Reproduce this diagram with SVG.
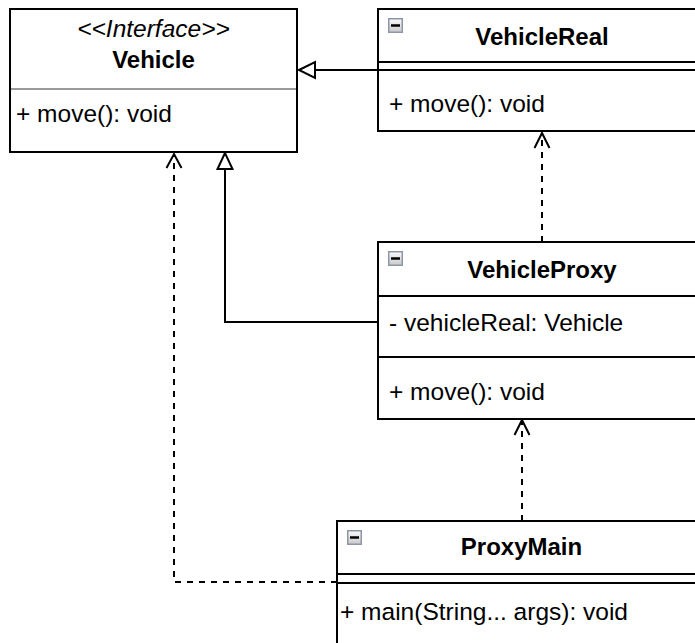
<svg xmlns="http://www.w3.org/2000/svg" width="695" height="643" viewBox="0 0 695 643">
<style>
.box{fill:#ffffff;stroke:#000000;stroke-width:2}
.sep{stroke:#000000;stroke-width:2}
.gsep{stroke:#9a9a9a;stroke-width:2}
text{font-family:"Liberation Sans",Arial,Helvetica,sans-serif;font-size:24.5px;fill:#000000}
.t{font-weight:bold;font-size:24px;text-anchor:middle}
.st{font-style:italic;text-anchor:middle}
.ln{fill:none;stroke:#000000;stroke-width:2}
.dash{fill:none;stroke:#000000;stroke-width:2;stroke-dasharray:6 6}
.tri{fill:#ffffff;stroke:#000000;stroke-width:2}
.open{fill:none;stroke:#000000;stroke-width:2}
.icb{fill:url(#ig);stroke:#8d96a8;stroke-width:1.5}
.icd{stroke:#000000;stroke-width:2.5}
</style>
<defs>
<linearGradient id="ig" x1="0" y1="0" x2="0" y2="1">
<stop offset="0" stop-color="#fbfbfb"/>
<stop offset="1" stop-color="#c9c9c9"/>
</linearGradient>
<symbol id="icon" viewBox="0 0 15 15" width="15" height="15">
<rect class="icb" x="0.75" y="0.75" width="13.5" height="13.5"/>
<line class="icd" x1="3" y1="7.5" x2="12" y2="7.5"/>
</symbol>
</defs>
<g id="connectors">
<path class="ln" d="M378,70 H315"/>
<polygon class="tri" points="299,70 315,62 315,78"/>
<path class="ln" d="M378,322 H225 V169"/>
<polygon class="tri" points="225,153 217.5,169 232.5,169"/>
<path class="dash" d="M542,242 V134"/>
<path class="open" d="M534.5,148 L542,133 L549.5,148"/>
<path class="dash" d="M522,521 V422"/>
<path class="open" d="M514.5,435 L522,420 L529.5,435"/>
<path class="dash" d="M337,582 H174 V155"/>
<path class="open" d="M166.5,168 L174,154 L181.5,168"/>
</g>
<g id="Vehicle">
<rect class="box" x="10" y="9" width="287" height="143"/>
<text class="st" x="153.5" y="37">&lt;&lt;Interface&gt;&gt;</text>
<text class="t" x="153.5" y="68">Vehicle</text>
<line class="gsep" x1="11" y1="89" x2="296" y2="89"/>
<text x="16" y="122">+ move(): void</text>
</g>
<g id="VehicleReal">
<rect class="box" x="378" y="9" width="330" height="122"/>
<use href="#icon" x="388" y="18"/>
<text class="t" x="542" y="45">VehicleReal</text>
<line class="sep" x1="378" y1="62" x2="708" y2="62"/>
<line class="sep" x1="378" y1="70" x2="708" y2="70"/>
<text x="389" y="112">+ move(): void</text>
</g>
<g id="VehicleProxy">
<rect class="box" x="378" y="242" width="330" height="177"/>
<use href="#icon" x="388" y="251"/>
<text class="t" x="542" y="278">VehicleProxy</text>
<line class="sep" x1="378" y1="296" x2="708" y2="296"/>
<text x="389" y="331">- vehicleReal: Vehicle</text>
<line class="sep" x1="378" y1="357" x2="708" y2="357"/>
<text x="389" y="400">+ move(): void</text>
</g>
<g id="ProxyMain">
<rect class="box" x="337" y="521" width="371" height="140"/>
<use href="#icon" x="347" y="530"/>
<text class="t" x="521.5" y="555">ProxyMain</text>
<line class="sep" x1="337" y1="574" x2="708" y2="574"/>
<line class="sep" x1="337" y1="583" x2="708" y2="583"/>
<text x="340" y="620">+ main(String... args): void</text>
</g>
</svg>
